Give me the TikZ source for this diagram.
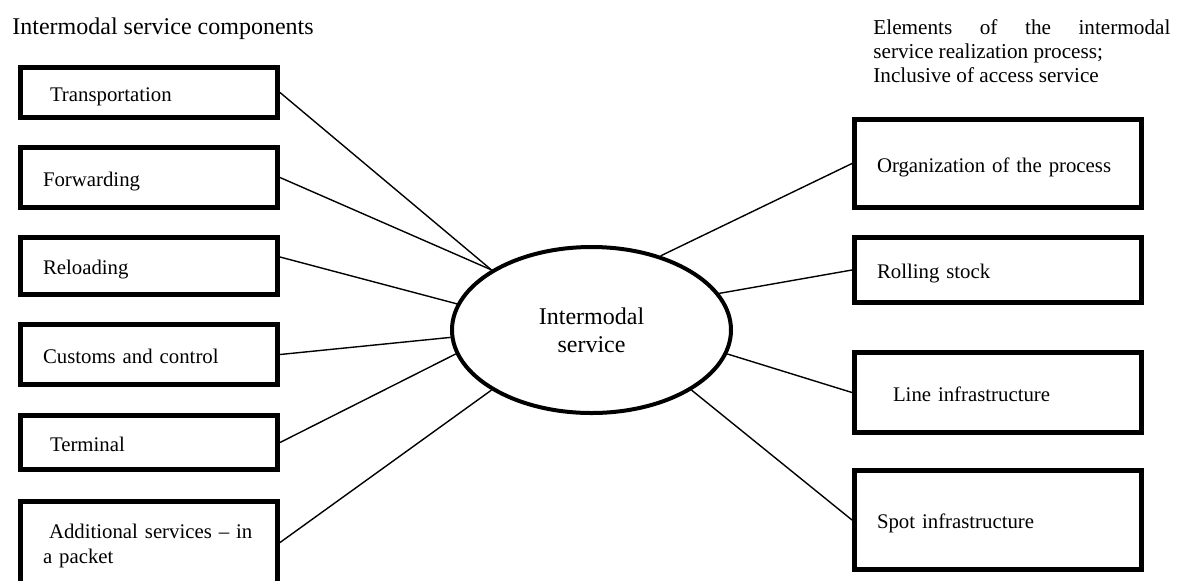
\documentclass[tikz,border=0pt]{standalone}
\usepackage{fontspec}
\setmainfont{Liberation Serif}
\usepackage{tikz}
\usetikzlibrary{shapes.geometric}

\newcommand{\boxfont}{\fontsize{10.4}{12.5}\selectfont}
\newcommand{\headfont}{\fontsize{10.6}{12}\selectfont}
\newcommand{\bigfont}{\fontsize{12}{14}\selectfont}

\tikzset{
    part/.style={draw, line width=2.5pt, align=left, font=\boxfont,
        inner xsep=11.25pt, inner ysep=0pt, text height=10pt, text depth=1.5pt},
    leftpart/.style={part, text width=106pt},
    rightpart/.style={part, text width=121pt},
    hub/.style={ellipse, draw, line width=2pt, minimum width=139.5pt,
        minimum height=83pt, inner sep=0pt, align=center, font=\bigfont},
    link/.style={line width=0.7pt}
}

\begin{document}
\begin{tikzpicture}[x=0.5pt, y=-0.5pt]
        \useasboundingbox (0, 0) rectangle (1178, 580);

        % headings
        \node[anchor=base west, inner sep=0pt, font=\bigfont] (headL) at (12, 34)
            {Intermodal service components};
        \node[anchor=north west, inner sep=0pt, text width=148.5pt, align=justify,
            font=\headfont] (headR) at (873, 19.5)
            {Elements of the intermodal\linebreak service realization process;\\
             Inclusive of access service};

        \node[hub] (hub) at (591.5, 330) {Intermodal\\service};

        % service components
        \node[leftpart, minimum height=25pt] (trans) at (149, 92.5) {\hspace*{3.5pt}Transportation};
        \node[leftpart, minimum height=30pt] (fwd) at (149, 177.5) {Forwarding};
        \node[leftpart, minimum height=28.5pt] (reload) at (149, 266) {Reloading};
        \node[leftpart, minimum height=30pt] (customs) at (149, 354.5) {Customs and control};
        \node[leftpart, minimum height=27pt] (terminal) at (149, 442.5) {\hspace*{3.5pt}Terminal};
        \node[leftpart, minimum height=45pt, text depth=18.5pt] (extra) at (149, 546.5)
            {\mbox{\hspace*{3pt}Additional services – in}\\a packet};

        % realization process
        \node[rightpart, minimum height=44pt] (org) at (998, 163.5) {Organization of the process};
        \node[rightpart, minimum height=32.5pt] (stock) at (998, 270) {Rolling stock};
        \node[rightpart, minimum height=40pt] (lineinf) at (998, 392.5) {\hspace*{8pt}Line infrastructure};
        \node[rightpart, minimum height=49.5pt] (spot) at (998, 520) {Spot infrastructure};

        \draw[link] (trans.east) -- (hub.149);
        \draw[link] (fwd.east) -- (hub.149);
        \draw[link] ([yshift=4.5pt]reload.east) -- (hub.169);
        \draw[link] (customs.east) -- (hub.183);
        \draw[link] (terminal.east) -- (hub.190);
        \draw[link] ([yshift=2pt]extra.east) -- (hub.211);

        \draw[link] (org.west) -- (hub.47);
        \draw[link] (stock.west) -- (hub.16);
        \draw[link] (lineinf.west) -- (hub.-10);
        \draw[link] (spot.west) -- (hub.-31);

    \end{tikzpicture}
\end{document}
